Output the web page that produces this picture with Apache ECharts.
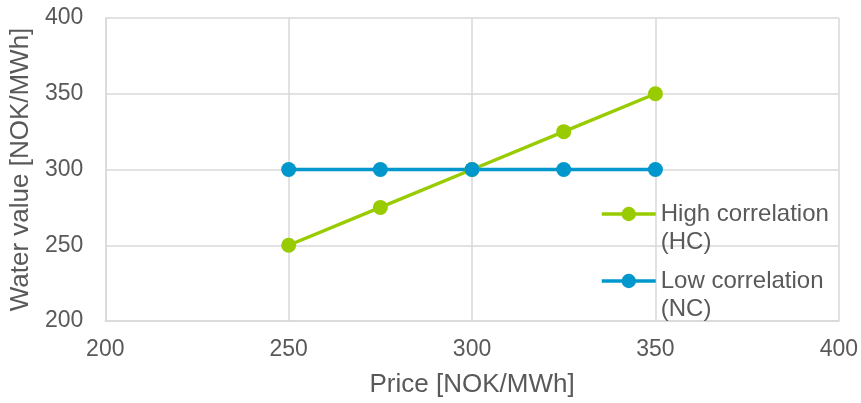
<!DOCTYPE html>
<html>
<head>
<meta charset="utf-8">
<script src="https://cdn.jsdelivr.net/npm/echarts@6/dist/echarts.min.js"></script>
<style>
  html, body { margin: 0; padding: 0; background: #ffffff; }
  #chart { width: 861px; height: 403px; }
</style>
</head>
<body>
<div id="chart"></div>
<script>
// Price points on the x axis [NOK/MWh]
const prices = [250, 275, 300, 325, 350];
// Water values [NOK/MWh] for each scenario
const highCorrelation = [250, 275, 300, 325, 350];
const lowCorrelation = [300, 300, 300, 300, 300];
const seriesNames = ['High correlation\n(HC)', 'Low correlation\n(NC)'];

const FONT = '"Liberation Sans", Arial, sans-serif';
const TEXT = '#595959';
const GRID = '#d9d9d9';
const GREEN = '#99cc00';
const BLUE = '#0097cc';

const chart = echarts.init(document.getElementById('chart'), null, { renderer: 'canvas' });

function pairs(xs, ys) { return xs.map((x, i) => [x, ys[i]]); }

// One legend block per series; a blank leading line keeps the symbol
// level with the first line of the two-line label.
function legendFor(name, top) {
  return {
    data: [name],
    left: 600,
    top: top,
    padding: 0,
    orient: 'vertical',
    itemWidth: 54,
    itemHeight: 18,
    itemGap: 0,
    formatter: n => ' \n' + n,
    lineStyle: { width: 3.5 },
    textStyle: { fontFamily: FONT, fontSize: 24, color: TEXT, lineHeight: 28 },
    selectedMode: false
  };
}

chart.setOption({
  animation: false,
  grid: { left: 104, right: 22, top: 18, bottom: 80 },
  legend: [legendFor(seriesNames[0], 172), legendFor(seriesNames[1], 239)],
  xAxis: {
    type: 'value', min: 200, max: 400, interval: 50,
    name: 'Price [NOK/MWh]', nameLocation: 'middle', nameGap: 51,
    nameTextStyle: { fontFamily: FONT, fontSize: 26, color: TEXT },
    axisLine: { show: true, lineStyle: { color: GRID, width: 1.5 } },
    axisTick: { show: false },
    axisLabel: { fontFamily: FONT, fontSize: 23, color: TEXT, margin: 17 },
    splitLine: { show: true, lineStyle: { color: GRID, width: 1.5 } }
  },
  yAxis: {
    type: 'value', min: 200, max: 400, interval: 50,
    name: 'Water value [NOK/MWh]', nameLocation: 'middle', nameGap: 71,
    nameTextStyle: { fontFamily: FONT, fontSize: 26, color: TEXT },
    axisLine: { show: true, lineStyle: { color: GRID, width: 1.5 } },
    axisTick: { show: false },
    axisLabel: { fontFamily: FONT, fontSize: 23, color: TEXT, margin: 22 },
    splitLine: { show: true, lineStyle: { color: GRID, width: 1.5 } }
  },
  series: [
    {
      name: seriesNames[0], type: 'line', data: pairs(prices, highCorrelation),
      symbol: 'circle', symbolSize: 15,
      lineStyle: { color: GREEN, width: 3.5 },
      itemStyle: { color: GREEN }
    },
    {
      name: seriesNames[1], type: 'line', data: pairs(prices, lowCorrelation),
      symbol: 'circle', symbolSize: 15,
      lineStyle: { color: BLUE, width: 3.5 },
      itemStyle: { color: BLUE }
    }
  ]
});
</script>
</body>
</html>
